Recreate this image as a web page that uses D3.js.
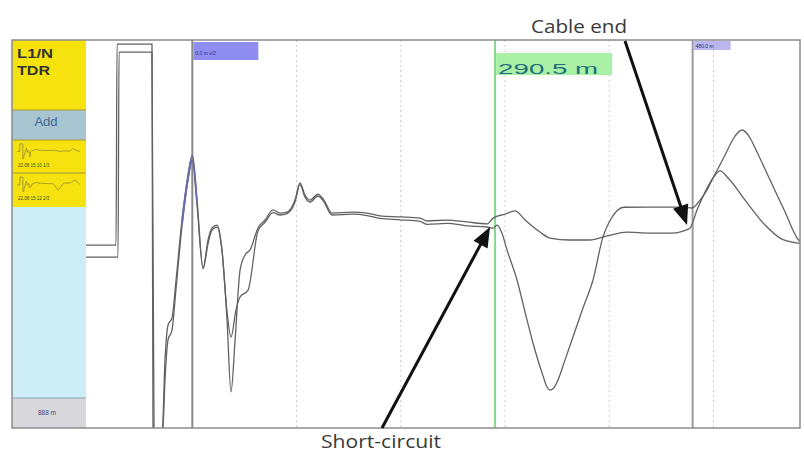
<!DOCTYPE html>
<html lang="en"><head><meta charset="utf-8">
<title>TDR L1/N</title>
<script src="https://cdnjs.cloudflare.com/ajax/libs/d3/7.8.5/d3.min.js"></script>
<style>
  body{margin:0;background:#fff;}
  .note{font-family:"Open Sans";font-size:18px;fill:#3a3a3a;}
  .side{font-family:"Liberation Sans";}
</style>
</head><body>
<svg class="tdr" width="804" height="452"></svg>
<script>
// readings off the screen: [distance in m, amplitude in %]
var traceRef = [[-102,-5.7],[-73.2,-5.7],[-72.2,97.9],[-38.7,97.9],[-37.7,-105],[-32.9,-108],[-29.1,-106],[-26.2,-64.9],[-23.3,-46.9],[-19.5,-43.3],[-15.6,-23.7],[-9.9,7.2],[-4.1,30.4],[0,40.7],[4.5,17.5],[10.3,-17.5],[15.1,-3.1],[18.9,3.1],[23.7,4.6],[28.5,-8.2],[33.3,-44.3],[37.1,-81.4],[41,-55],[45.8,-18.6],[50.6,-10.8],[55.4,-8.2],[63,3.1],[69.8,7.2],[77.4,12.4],[84.1,10.8],[90.9,11.3],[98.5,17.5],[103.3,26.3],[108.1,20.1],[112.9,17.5],[120.6,20.6],[126.3,17.5],[134,10.8],[154.1,11.3],[167.6,10.8],[180.1,9.3],[199.3,8.8],[218.5,8.2],[225.2,6.7],[244.4,7.2],[263.6,6.2],[282.8,5.2],[288.6,8.2],[300,10.3],[309.6,11.9],[319.2,7.2],[333.5,1],[343.1,-2.1],[362.3,-3.1],[381.5,-3.1],[397.9,-1],[417,1],[439.1,0.5],[461.2,0.5],[470.8,1.5],[477.5,3.1],[484.2,12.4],[491.9,21.6],[499.6,28.9],[506.3,32.5],[514,28.9],[530.3,17.5],[549.5,4.6],[563.9,-2.1],[580.2,-4.6],[583,-4.8]]

var traceFault = [[-102,-11.9],[-71.3,-11.9],[-70.3,93.8],[-38.7,93.8],[-36.7,-105],[-32.9,-110],[-28.1,-98.5],[-26.2,-75.3],[-23.3,-54.6],[-19.5,-49.5],[-15.6,-28],[-9.9,4],[-4.1,28],[0,38.1],[4.5,15],[10.3,-18],[15.1,-5],[18.9,2],[23.7,3.5],[28.5,-9],[33.3,-40],[37.1,-53.1],[41.9,-39.2],[45.8,-32.5],[53.5,-28.9],[63,1.5],[69.8,6],[77.4,11],[84.1,9.8],[90.9,10.5],[98.5,16.5],[103.3,25.5],[108.1,19],[112.9,16.5],[120.6,19.6],[126.3,16.5],[134,9.8],[154.1,10.2],[167.6,9.5],[180.1,8],[199.3,7.3],[218.5,6.5],[225.2,5],[244.4,5.5],[263.6,4.2],[282.8,3.6],[288.6,3],[292.4,4.6],[297,0.5],[301.9,-8.2],[311.5,-23.7],[321.1,-44.3],[328.7,-59.8],[336.4,-73],[340,-78.5],[343.1,-80.4],[346.5,-79.5],[350.8,-75.3],[357.5,-65],[365.2,-53.1],[374.8,-38.1],[384.4,-23.7],[394,-1.5],[398,4],[403,9],[408,12.3],[414,13.8],[439.1,13.9],[470.8,13.9],[479.4,13.4],[487.1,17.5],[493.8,22.7],[498.6,27.8],[511.1,40.7],[520.7,50.5],[527.4,53.6],[535.1,49.5],[539.9,44.3],[554.3,27.8],[568.7,11.3],[580.2,-2.1],[583,-4]]

var gridMeters = [100, 200, 300, 400, 500]
var cursorMeters = [0, 290.5, 480]
var cursorLabels = ["0,0 m  v/2", "290.5 m", "480.0 m"]
var thumbLabels = ["22.08 15:10 1/3", "22.08 15:12 2/3"]
var rangeLabel = "888 m"
// arrow tips, [distance, amplitude]
var cableEnd = [474.6, 4.6]
var shortCircuit = [285.6, 3.6]

var svg = d3.select('.tdr')
var x = d3.scaleLinear().domain([-102, 583]).range([86, 800])
var y = d3.scaleLinear().domain([-100, 100]).range([428, 40])

svg.append('defs').append('clipPath').attr('id', 'plot-clip')
  .append('rect').attr('x', 86).attr('y', 40).attr('width', 714).attr('height', 388)

// left side panel
var panel = svg.append('g')
function block(y0, h, fill) {
  panel.append('rect').attr('x', 12).attr('y', y0).attr('width', 74).attr('height', h).attr('fill', fill)
}
block(40, 70, '#f6e20e')
block(110, 30, '#a8c5d2')
block(140, 67, '#f6e20e')
block(207, 191, '#cdeef7')
block(398, 30, '#d8d8dc')
;[110, 140, 173].forEach(function(v) {
  panel.append('line').attr('x1', 12).attr('x2', 86).attr('y1', v).attr('y2', v)
    .attr('stroke', '#a8973a').attr('stroke-width', 1)
})
panel.append('line').attr('x1', 12).attr('x2', 86).attr('y1', 398).attr('y2', 398)
  .attr('stroke', '#8aa3ad').attr('stroke-width', 1)

panel.append('text').attr('class', 'side').attr('x', 17).attr('y', 58)
  .attr('font-size', 13.5).attr('font-weight', 'bold').attr('fill', '#333')
  .attr('textLength', 36).attr('lengthAdjust', 'spacingAndGlyphs').text('L1/N')
panel.append('text').attr('class', 'side').attr('x', 17).attr('y', 75)
  .attr('font-size', 13.5).attr('font-weight', 'bold').attr('fill', '#333')
  .attr('textLength', 33).attr('lengthAdjust', 'spacingAndGlyphs').text('TDR')
panel.append('text').attr('class', 'side').attr('x', 46).attr('y', 126)
  .attr('text-anchor', 'middle').attr('font-size', 13).attr('fill', '#3f6690').text('Add')
panel.append('text').attr('class', 'side').attr('x', 47).attr('y', 415)
  .attr('text-anchor', 'middle').attr('font-size', 6.5).attr('fill', '#3b4a7a').text(rangeLabel)

// thumbnails of the two stored traces
;[traceRef, traceFault].forEach(function(tr, i) {
  var top = i == 0 ? 140 : 173
  var mx = d3.scaleLinear().domain([-102, 583]).range([17, 80])
  var my = d3.scaleLinear().domain([-110, 110]).range([top + 19, top + 3])
  panel.append('path').datum(tr)
    .attr('d', d3.line().x(function(d) { return mx(d[0]) }).y(function(d) { return my(d[1]) }))
    .attr('fill', 'none').attr('stroke', '#8a7d3a').attr('stroke-width', 0.7)
  panel.append('text').attr('class', 'side').attr('x', 18).attr('y', top + 27)
    .attr('font-size', 4.5).attr('fill', '#4a4a3a').text(thumbLabels[i])
})

// plot area
var plot = svg.append('g')
plot.selectAll('.grid').data(gridMeters).join('line')
  .attr('class', 'grid')
  .attr('x1', function(d) { return x(d) }).attr('x2', function(d) { return x(d) })
  .attr('y1', 40).attr('y2', 428)
  .attr('stroke', '#cdcdcd').attr('stroke-dasharray', '2,3')

var cursorColors = ['#8a8a8a', '#86d886', '#9a9a9a']
plot.selectAll('.cursor').data(cursorMeters).join('line')
  .attr('class', 'cursor')
  .attr('x1', function(d) { return x(d) }).attr('x2', function(d) { return x(d) })
  .attr('y1', 40).attr('y2', 428)
  .attr('stroke', function(d, i) { return cursorColors[i] }).attr('stroke-width', 2)

// cursor tags
var c0 = x(cursorMeters[0]), c1 = x(cursorMeters[1]), c2 = x(cursorMeters[2])
plot.append('rect').attr('x', c0 + 1).attr('y', 42).attr('width', 65).attr('height', 18).attr('fill', '#8f8ef0')
plot.append('text').attr('class', 'side').attr('x', c0 + 3).attr('y', 55)
  .attr('font-size', 5).attr('fill', '#2d2d6a').text(cursorLabels[0])
plot.append('rect').attr('x', c1 + 1).attr('y', 53).attr('width', 116).attr('height', 22).attr('fill', '#a9efa6')
plot.append('text').attr('class', 'side').attr('x', c1 + 3).attr('y', 74)
  .attr('font-size', 14).attr('fill', '#1f6f7a')
  .attr('textLength', 100).attr('lengthAdjust', 'spacingAndGlyphs').text(cursorLabels[1])
plot.append('rect').attr('x', c2 + 1).attr('y', 41).attr('width', 37).attr('height', 9).attr('fill', '#b9b8ec')
plot.append('text').attr('class', 'side').attr('x', c2 + 3).attr('y', 48)
  .attr('font-size', 5).attr('fill', '#2d2d6a').text(cursorLabels[2])

// traces
var line = d3.line()
  .x(function(d) { return x(d[0]) })
  .y(function(d) { return y(d[1]) })
  .curve(d3.curveMonotoneX)
var traces = plot.append('g').attr('clip-path', 'url(#plot-clip)')
;[traceRef, traceFault].forEach(function(tr) {
  traces.append('path').datum(tr).attr('d', line)
    .attr('fill', 'none').attr('stroke', '#626262').attr('stroke-width', 1.3)
  traces.append('path').datum(tr.filter(function(d) { return d[0] > -10 && d[0] < 6 }))
    .attr('d', line).attr('fill', 'none').attr('stroke', '#6c6cb4').attr('stroke-width', 1.3)
})

// frame
svg.append('rect').attr('x', 12).attr('y', 40).attr('width', 788).attr('height', 388)
  .attr('fill', 'none').attr('stroke', '#8c8c8c').attr('stroke-width', 1.5)

// annotations
function arrow(x0, y0, x1, y1) {
  var dx = x1 - x0, dy = y1 - y0, len = Math.sqrt(dx * dx + dy * dy)
  var ux = dx / len, uy = dy / len, hl = 20, hw = 8
  var bx = x1 - ux * hl, by = y1 - uy * hl
  svg.append('line').attr('x1', x0).attr('y1', y0).attr('x2', bx + ux * 2).attr('y2', by + uy * 2)
    .attr('stroke', '#111').attr('stroke-width', 3)
  svg.append('path')
    .attr('d', 'M' + x1 + ',' + y1 + 'L' + (bx - uy * hw) + ',' + (by + ux * hw) + 'L' + (bx + uy * hw) + ',' + (by - ux * hw) + 'Z')
    .attr('fill', '#111')
}
arrow(625, 41, x(cableEnd[0]), y(cableEnd[1]))
arrow(382, 428, x(shortCircuit[0]), y(shortCircuit[1]))

svg.append('text').attr('class', 'note').attr('x', 531).attr('y', 33)
  .attr('textLength', 96).attr('lengthAdjust', 'spacingAndGlyphs').text('Cable end')
svg.append('text').attr('class', 'note').attr('x', 321).attr('y', 448)
  .attr('textLength', 120).attr('lengthAdjust', 'spacingAndGlyphs').text('Short-circuit')
</script>
</body></html>
